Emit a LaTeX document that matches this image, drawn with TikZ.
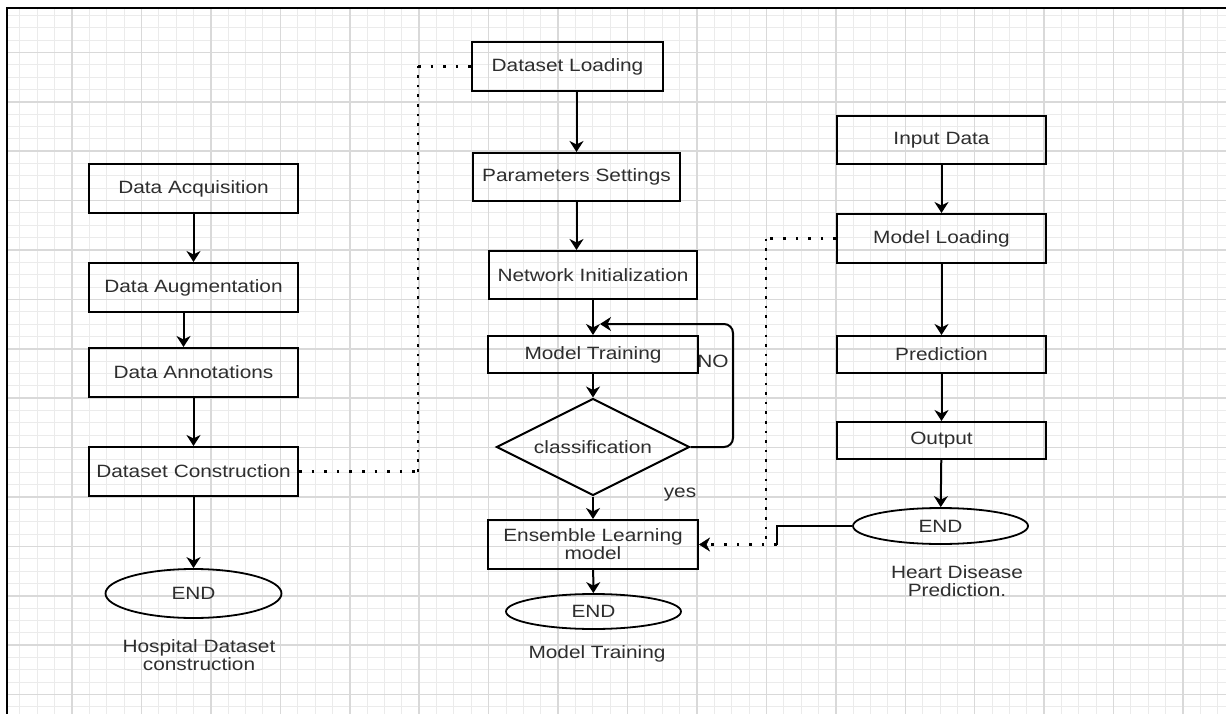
\documentclass[tikz,border=0pt]{standalone}
\usepackage{fontspec}
\setmainfont[FakeStretch=1.17]{Liberation Sans}
\usetikzlibrary{arrows.meta,shapes.geometric}
\definecolor{txt}{HTML}{2E2E2E}
\definecolor{gmaj}{HTML}{D9D9D9}
\definecolor{gmin}{HTML}{EBEBEB}
\begin{document}
\begin{tikzpicture}[x=1pt,y=-1pt,
  every node/.style={font=\fontsize{17.8}{18}\selectfont},
  box/.style={draw,line width=2pt,rectangle,inner sep=0pt,text=txt,align=center},
  term/.style={draw,line width=1.8pt,ellipse,inner sep=0pt,text=txt},
  dec/.style={draw,line width=2pt,diamond,aspect=2,inner sep=0pt,text=txt},
  arr/.style={line width=2pt,-{Stealth[length=11pt,width=14pt,inset=3.5pt]}},
  dotsh/.style={line width=2.6pt,dash pattern=on 2.6pt off 10pt},
  dotsv/.style={line width=2.6pt,dash pattern=on 2.6pt off 7pt},
  dotarr/.style={line width=2.6pt,dash pattern=on 2.6pt off 10pt,-{Stealth[length=11pt,width=14pt,inset=3.5pt,line width=0.5pt]}},
  lbl/.style={text=txt,align=center}
]
\useasboundingbox (0,0) rectangle (1226,714);
\fill[white] (0,0) rectangle (1226,714);
% grid
\foreach \i in {-3,...,66} \draw[gmin,line width=1pt] ({72+17.36*\i},9) -- ({72+17.36*\i},714);
\foreach \j in {1,...,57} \draw[gmin,line width=1pt] (8,{3+12.35*\j}) -- (1226,{3+12.35*\j});
\foreach \i in {0,...,16} \draw[gmaj,line width=1.5pt] ({72+69.44*\i},9) -- ({72+69.44*\i},714);
\foreach \j in {1,...,14} \draw[gmaj,line width=1.5pt] (8,{3+49.4*\j}) -- (1226,{3+49.4*\j});
% border
\draw[line width=2.8pt,line join=miter] (1226,8) -- (7,8) -- (7,714);

% left column
\node[box,minimum width=209pt,minimum height=49pt] (acq) at (193.5,188.5) {Data Acquisition};
\node[box,minimum width=209pt,minimum height=49pt] (aug) at (193.5,287.5) {Data Augmentation};
\node[box,minimum width=209pt,minimum height=49pt] (ann) at (193.5,372.5) {Data Annotations};
\node[box,minimum width=209pt,minimum height=49pt] (con) at (193.5,471.5) {Dataset Construction};
\node[term,minimum width=176pt,minimum height=49pt] (end1) at (193.5,593.5) {END};
\node[lbl] (lab1) at (199,655) {Hospital Dataset\\construction};

% middle column
\node[box,minimum width=191pt,minimum height=49pt] (load) at (567.5,66.5) {Dataset Loading};
\node[box,minimum width=207pt,minimum height=48pt] (par) at (576.5,177) {Parameters Settings};
\node[box,minimum width=208pt,minimum height=48pt] (net) at (593,275) {Network Initialization};
\node[box,minimum width=210pt,minimum height=37pt] (mt) at (593,354.5) {Model Training};
\node[dec,minimum width=193pt,minimum height=97pt] (cls) at (593,447) {classification};
\node[box,minimum width=210pt,minimum height=49pt] (ens) at (593,544.5) {Ensemble Learning\\model};
\node[term,minimum width=175pt,minimum height=35pt] (end2) at (593.5,611.5) {END};
\node[lbl] (lab2) at (597,654) {Model Training};
\node[lbl] (no) at (713,361) {NO};
\node[lbl] (yes) at (680,495) {yes};

% right column
\node[box,minimum width=209pt,minimum height=48pt] (in) at (941.5,140) {Input Data};
\node[box,minimum width=209pt,minimum height=49pt] (ml) at (941.5,238.5) {Model Loading};
\node[box,minimum width=209pt,minimum height=37pt] (pred) at (941.5,354.5) {Prediction};
\node[box,minimum width=209pt,minimum height=37pt] (out) at (941.5,440.5) {Output};
\node[term,minimum width=175pt,minimum height=36pt] (end3) at (940.5,526) {END};
\node[lbl] (lab3) at (957,581) {Heart Disease\\Prediction.};

% coordinates
\coordinate (c1) at (418,471.5);
\coordinate (c2) at (418,66.5);
\coordinate (loopend) at (600,324);
\coordinate (loopa) at (733,447);
\coordinate (loopb) at (733,324);
\coordinate (j1) at (766,238.5);
\coordinate (j2) at (766,544.5);
\coordinate (k1) at (777,526);
\coordinate (k2) at (777,544.5);

% left arrows
\draw[arr] (acq) -- (aug);
\draw[arr] ([xshift=-10pt]aug.south) -- ([xshift=-10pt]ann.north);
\draw[arr] (ann) -- (con);
\draw[arr] (con) -- (end1);

% dotted link to dataset loading
\draw[dotsh] (con.east) -- (c1);
\draw[dotsv] (c1) -- (c2);
\draw[dotsh] (c2) -- (load.west);

% middle arrows
\draw[arr] (par.north |- load.south) -- (par.north);
\draw[arr] (par.south) -- (par.south |- net.north);
\draw[arr] (net) -- (mt);
\draw[arr] (mt) -- (cls);
\draw[arr] (cls) -- (ens);
\draw[arr] (ens) -- (end2);
\draw[arr,rounded corners=9pt] (cls.east) -- (loopa) -- (loopb) -- (loopend);

% right arrows
\draw[arr] (in) -- (ml);
\draw[arr] (ml) -- (pred);
\draw[arr] (pred) -- (out);
\draw[arr] (out) -- (end3);

% links into ensemble
\draw[line width=2pt] (end3.west) -- (k1) -- (k2);
\draw[dotsh] (ml.west) -- (j1);
\draw[dotsv] (j1) -- (j2);
\draw[dotarr] (k2) -- (ens.east);
\end{tikzpicture}
\end{document}
